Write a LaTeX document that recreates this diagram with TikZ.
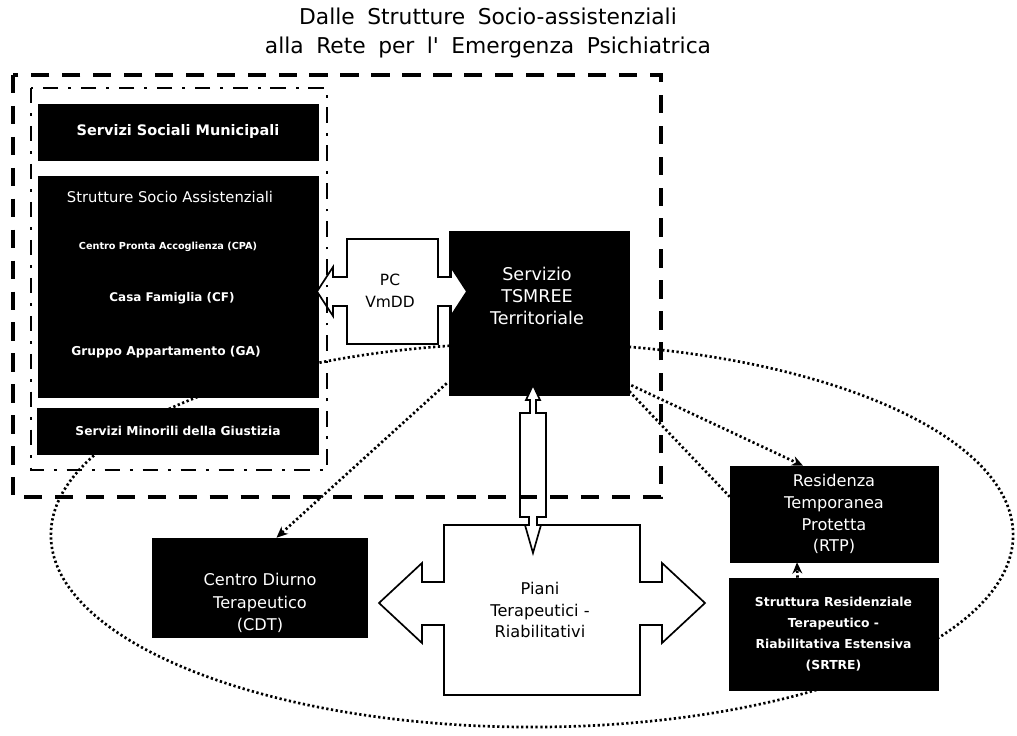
\documentclass[tikz,border=0pt]{standalone}
\usepackage{fontspec}
\setmainfont{DejaVu Sans}
\newfontfamily\titlefont[WordSpace=1.8]{DejaVu Sans}
\usetikzlibrary{arrows.meta, positioning, calc}

\tikzset{
  darkbox/.style={draw=black, fill=black, text=white, align=center, inner sep=2pt},
  boxtext/.style={text=white, align=center, inner sep=1pt},
  callout/.style={draw=black, fill=white, line width=1.2pt, line join=miter},
  dotline/.style={line width=1.9pt, dash pattern=on 1.6pt off 1.8pt},
  dotarrow/.style={dotline, -{Stealth[length=8pt,width=7pt]}},
  outerframe/.style={line width=2.2pt, dash pattern=on 13pt off 9pt},
  innerframe/.style={line width=1.8pt, dash pattern=on 11pt off 7pt on 2pt off 7pt},
}
\newcommand{\fs}[2]{\fontsize{#1}{#2}\selectfont}

\begin{document}
\begin{tikzpicture}[x=0.025cm, y=-0.025cm]
\useasboundingbox (0,0) rectangle (1017,735);

\node[align=center, font=\titlefont\fs{15.5}{20.6}] (title) at (488,33)
  {Dalle Strutture Socio-assistenziali\\alla Rete per l' Emergenza Psichiatrica};

% ellisse della rete
\draw[dotline] (532,535) ellipse [x radius=12.025cm, y radius=4.8cm];

% servizi sociali a sinistra
\node[darkbox, minimum width=7cm, minimum height=1.4cm, font=\fs{10.3}{12}\bfseries] (socmun) at (178,132) {Servizi Sociali Municipali};
\node[darkbox, minimum width=7cm, minimum height=5.525cm] (strsoc) at (178,286.5) {};
\node[boxtext, font=\fs{10.5}{13}] (strtitle) at (170,197) {Strutture Socio Assistenziali};
\node[boxtext, font=\fs{6.9}{8}\bfseries] (cpa) at (168,247) {Centro Pronta Accoglienza (CPA)};
\node[boxtext, font=\fs{8.5}{10}\bfseries] (cf) at (172,298) {Casa Famiglia (CF)};
\node[boxtext, font=\fs{8.7}{10}\bfseries] (ga) at (166,352) {Gruppo Appartamento (GA)};
\node[darkbox, minimum width=7.025cm, minimum height=1.15cm, font=\fs{8.7}{11}\bfseries] (minor) at (178,431) {Servizi Minorili della Giustizia};

% servizio territoriale
\node[darkbox, minimum width=4.5cm, minimum height=4.1cm] (tsmree) at (539,313) {};
\node[boxtext, font=\fs{12.5}{15.6}] (tsmreetxt) at (537,296) {Servizio\\TSMREE\\Territoriale};

% strutture terapeutiche
\node[darkbox, minimum width=5.375cm, minimum height=2.475cm] (cdt) at (259.5,587.5) {};
\node[boxtext, font=\fs{11.5}{16}] (cdttxt) at (260,603) {Centro Diurno\\Terapeutico\\(CDT)};
\node[darkbox, minimum width=5.2cm, minimum height=2.4cm, font=\fs{11.5}{15.6}] (rtp) at (834,514) {Residenza\\Temporanea\\Protetta\\(RTP)};
\node[darkbox, minimum width=5.225cm, minimum height=2.8cm, font=\fs{8.8}{15}\bfseries] (srtre) at (833.5,634) {Struttura Residenziale\\Terapeutico -\\Riabilitativa Estensiva\\(SRTRE)};

% frecce bianche
\draw[callout] (444,525) -- (640,525) -- (640,582) -- (662,582) -- (662,563) -- (705,603) -- (662,643) -- (662,625)
  -- (640,625) -- (640,695) -- (444,695) -- (444,625) -- (422,625) -- (422,643) -- (379,603) -- (422,563) -- (422,582) -- (444,582) -- cycle;
\node[align=center, font=\fs{11.5}{15.6}] (piani) at (540,610) {Piani\\Terapeutici -\\Riabilitativi};

\draw[callout] (533,385) -- (540,400) -- (536,400) -- (536,413) -- (546,413) -- (546,517) -- (537,517) -- (537,525) -- (541,525)
  -- (533,553) -- (525,525) -- (529,525) -- (529,517) -- (520,517) -- (520,413) -- (530,413) -- (530,400) -- (526,400) -- cycle;

\draw[callout] (347,239) -- (438,239) -- (438,277) -- (451,277) -- (451,267) -- (467,291.5) -- (451,316) -- (451,306) -- (438,306)
  -- (438,344) -- (347,344) -- (347,306) -- (333,306) -- (333,316) -- (317,291.5) -- (333,267) -- (333,277) -- (347,277) -- cycle;
\node[align=center, font=\fs{11}{15.6}] (pc) at (390,291) {PC\\VmDD};

% collegamenti
\draw[dotarrow] ($(tsmree.south west)+(-2,-12)$) -- ($(cdt.north)+(17,0)$);
\draw[dotarrow] ($(tsmree.south east)+(2,-10)$) -- ($(rtp.north)+(-31,0)$);
\draw[dotline] ($(tsmree.south east)+(0,-4)$) -- ($(rtp.north west)+(0,31)$);
\draw[dotarrow] ($(srtre.north)+(-36,0)$) -- ($(rtp.south)+(-37,0)$);

% cornici
\draw[outerframe] (13,75) rectangle (661,497);
\draw[innerframe] (31,88) rectangle (327,470);
\end{tikzpicture}
\end{document}
